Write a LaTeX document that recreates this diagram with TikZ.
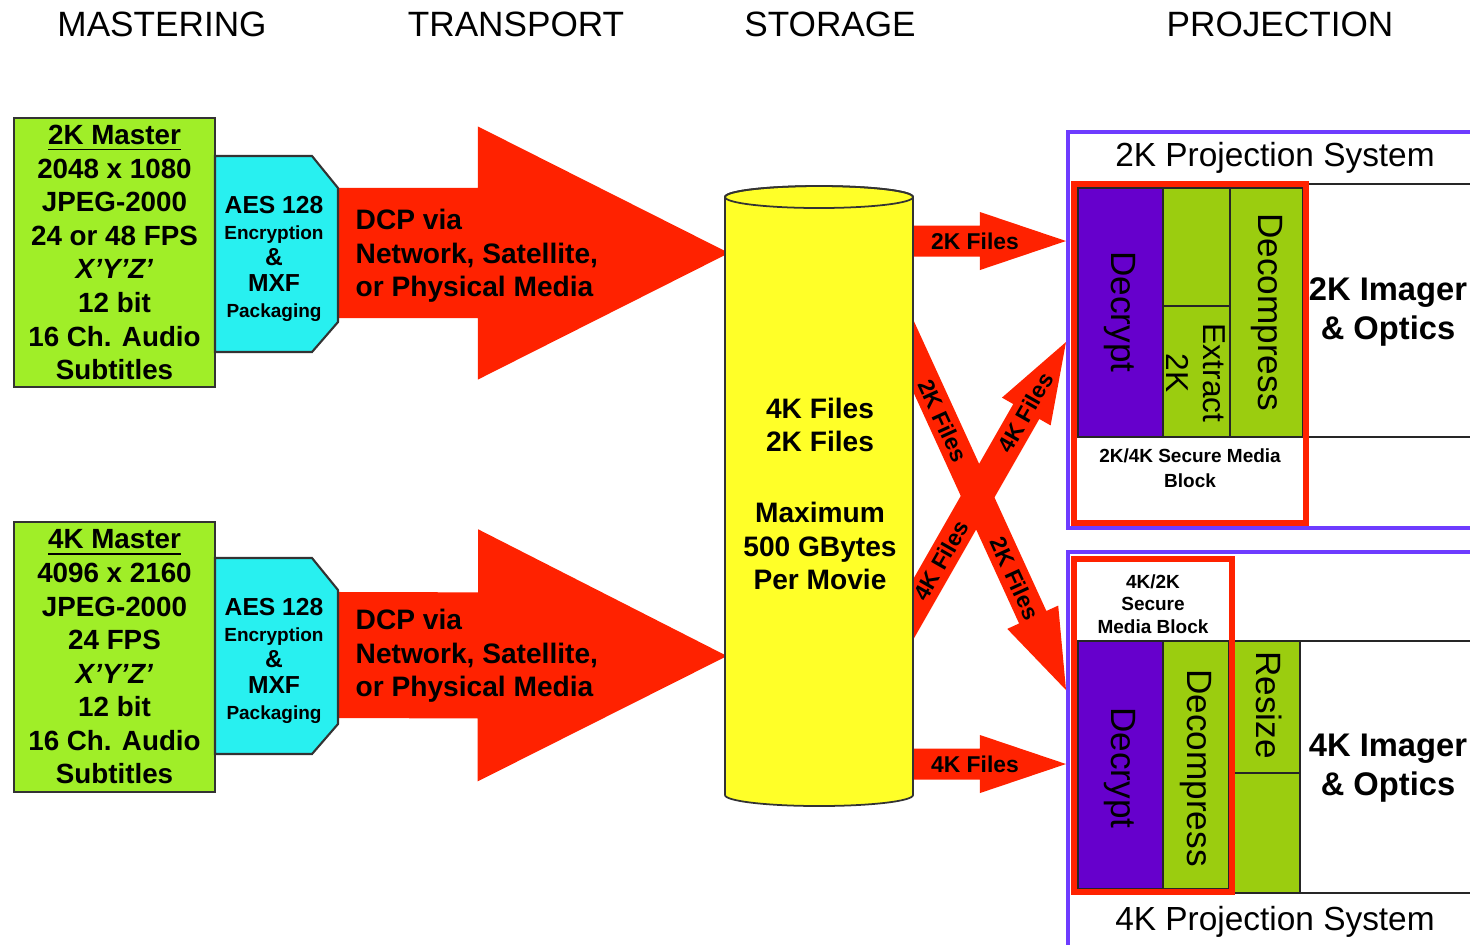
\documentclass[tikz,border=0pt]{standalone}
\usepackage{fontspec}
\setmainfont{Liberation Sans}
\usetikzlibrary{calc}

\definecolor{mastergreen}{RGB}{160,238,40}
\definecolor{aescyan}{RGB}{40,240,240}
\definecolor{dcpred}{RGB}{255,34,0}
\definecolor{storeyellow}{RGB}{255,255,40}
\definecolor{projgreen}{RGB}{155,205,15}
\definecolor{decpurple}{RGB}{102,0,204}
\definecolor{frameblue}{RGB}{110,60,255}

% fat arrow: start, tip, half shaft, half head, head length
\newcommand{\fatarrow}[5]{%
  \coordinate (fab) at ($(#2)!#5!(#1)$);
  \fill[dcpred] ($(#1)!#3!90:(#2)$) -- ($(fab)!#3!90:(#2)$)
    -- ($(fab)!#4!90:(#2)$) -- (#2) -- ($(fab)!#4!-90:(#2)$)
    -- ($(fab)!#3!-90:(#2)$) -- ($(#1)!#3!-90:(#2)$) -- cycle;}

\begin{document}
\begin{tikzpicture}[x=0.01cm,y=-0.01cm,
  hdr/.style={inner sep=0pt,font=\fontsize{10}{12}\selectfont},
  master/.style={draw=black!80,line width=0.6pt,fill=mastergreen,minimum width=2.01cm,minimum height=2.69cm,inner sep=0pt,align=center,font=\bfseries\fontsize{7.9}{9.55}\selectfont},
  aes/.style={draw=black!80,line width=0.6pt,fill=aescyan},
  aestext/.style={align=center,inner sep=0pt,font=\bfseries\fontsize{7}{7.4}\selectfont},
  boldtext/.style={inner sep=0pt,font=\bfseries\fontsize{8}{9.55}\selectfont},
  files/.style={inner sep=0pt,font=\bfseries\fontsize{6.5}{7}\selectfont},
  cell/.style={draw=black!85,line width=0.6pt},
  redframe/.style={draw=dcpred,line width=1.9pt},
  sysframe/.style={draw=frameblue,line width=0.9pt},
  title/.style={inner sep=0pt,font=\fontsize{9.5}{11}\selectfont},
  vlabel/.style={inner sep=0pt,rotate=-90,align=center,font=\fontsize{10}{11}\selectfont},
  imager/.style={inner sep=0pt,align=center,font=\bfseries\fontsize{9.3}{11.1}\selectfont},
  smb/.style={inner sep=0pt,align=center,font=\bfseries\fontsize{5.4}{6.4}\selectfont}]
\clip (0,0) rectangle (1470,944);

% headings
\node[hdr] (MAST) at (162,24) {MASTERING};
\node[hdr] (TRAN) at (516,24) {TRANSPORT};
\node[hdr] (STOR) at (830,24) {STORAGE};
\node[hdr] (PROJ) at (1280,24) {PROJECTION};

% transport arrows
\coordinate (D2s) at (336,253);
\coordinate (D2t) at (729,253);
\coordinate (D4s) at (336,655);
\coordinate (D4t) at (727,656);
\fatarrow{D2s}{D2t}{0.65cm}{1.265cm}{2.51cm}
\fatarrow{D4s}{D4t}{0.63cm}{1.26cm}{2.49cm}

% files to projection
\coordinate (F2s) at (905,241);
\coordinate (F2t) at (1066,241);
\coordinate (F4s) at (905,764);
\coordinate (F4t) at (1066,764);
\coordinate (X2s) at (890,305);
\coordinate (X2t) at (1066,690);
\coordinate (X4s) at (890,650);
\coordinate (X4t) at (1066,342);
\fatarrow{F2s}{F2t}{0.155cm}{0.29cm}{0.86cm}
\fatarrow{F4s}{F4t}{0.155cm}{0.29cm}{0.86cm}
\fatarrow{X2s}{X2t}{0.15cm}{0.28cm}{0.8cm}
\fatarrow{X4s}{X4t}{0.15cm}{0.28cm}{0.8cm}

% storage
\filldraw[fill=storeyellow,draw=black!80,line width=0.5pt] (725,197) -- (725,795)
  arc[start angle=180,end angle=0,x radius=94,y radius=11] -- (913,197)
  arc[start angle=0,end angle=-180,x radius=94,y radius=11] -- cycle;
\draw[black!80,line width=0.5pt] (819,197) ellipse[x radius=94,y radius=11];
\node[boldtext,align=center] (STORE) at (820,494) {4K Files\\2K Files\\[10.6pt]Maximum\\500 GBytes\\Per Movie};

% mastering
\node[master] (M2K) at (114.5,252.5) {\underline{2K Master}\\2048 x 1080\\JPEG-2000\\24 or 48 FPS\\\textit{X'Y'Z'}\\12 bit\\16 Ch. Audio\\Subtitles};
\node[master] (M4K) at (114.5,657) {\underline{4K Master}\\4096 x 2160\\JPEG-2000\\24 FPS\\\textit{X'Y'Z'}\\12 bit\\16 Ch. Audio\\Subtitles};
\draw[aes] (215,156) -- (312,156) -- (338,188) -- (338,322) -- (312,352) -- (215,352) -- cycle;
\draw[aes] (215,558) -- (312,558) -- (338,590) -- (338,724) -- (312,754) -- (215,754) -- cycle;
\node[aestext] (AES2K) at (274,259) {AES 128\\{\fontsize{5.4}{7.4}\selectfont Encryption}\\\&\\MXF\\{\fontsize{5.4}{7.4}\selectfont Packaging}};
\node[aestext] (AES4K) at (274,661) {AES 128\\{\fontsize{5.4}{7.4}\selectfont Encryption}\\\&\\MXF\\{\fontsize{5.4}{7.4}\selectfont Packaging}};
\node[boldtext,align=left,anchor=west] (DCP2K) at (355,256) {DCP via\\Network, Satellite,\\or Physical Media};
\node[boldtext,align=left,anchor=west] (DCP4K) at (355,656) {DCP via\\Network, Satellite,\\or Physical Media};

% file labels
\node[files] (L2K) at (975,241) {2K Files};
\node[files] (L4K) at (975,764) {4K Files};
\path (X2s) -- (X2t) node[files,sloped,pos=.30] (LX2a) {2K Files} node[files,sloped,pos=.71] (LX2b) {2K Files};
\path (X4s) -- (X4t) node[files,sloped,pos=.29] (LX4a) {4K Files} node[files,sloped,pos=.77] (LX4b) {4K Files};

% 2K projection system
\draw[sysframe,fill=white] (1068,132) rectangle (1490,528);
\node[title] (T2K) at (1275,158) {2K Projection System};
\filldraw[cell,fill=decpurple] (1078,188) rectangle (1163,437);
\filldraw[cell,fill=projgreen] (1163,188) rectangle (1230,306);
\filldraw[cell,fill=projgreen] (1163,306) rectangle (1230,437);
\filldraw[cell,fill=projgreen] (1230,188) rectangle (1303,437);
\draw[cell] (1306,184) -- (1490,184);
\draw[cell] (1303,437) -- (1490,437);
\draw[redframe] (1074,184) rectangle (1306,523);
\node[vlabel] (DEC2K) at (1120,312) {Decrypt};
\node[vlabel,font=\fontsize{9}{10.5}\selectfont] (EXT2K) at (1196,373) {Extract\\2K};
\node[vlabel] (DCM2K) at (1267,312) {Decompress};
\node[smb] (SMB2K) at (1190,468) {2K/4K Secure Media\\[0.7pt]Block};
\node[imager] (IMG2K) at (1388,312) {2K Imager\\\& Optics};

% 4K projection system
\draw[sysframe,fill=white] (1068,552) rectangle (1490,960);
\filldraw[cell,fill=decpurple] (1078,641) rectangle (1163,889);
\filldraw[cell,fill=projgreen] (1163,641) rectangle (1229,889);
\filldraw[cell,fill=projgreen] (1232,641) rectangle (1300,773);
\filldraw[cell,fill=projgreen] (1232,773) rectangle (1300,893);
\draw[cell] (1078,641) -- (1490,641);
\draw[cell] (1232,893) -- (1490,893);
\draw[redframe] (1074,559) rectangle (1232,892);
\node[smb] (SMB4K) at (1153,604) {4K/2K\\Secure\\Media Block};
\node[vlabel] (DEC4K) at (1120,768) {Decrypt};
\node[vlabel] (DCM4K) at (1196,768) {Decompress};
\node[vlabel] (RSZ4K) at (1269,705) {Resize};
\node[imager] (IMG4K) at (1388,768) {4K Imager\\\& Optics};
\node[title] (T4K) at (1275,922) {4K Projection System};
\end{tikzpicture}
\end{document}
